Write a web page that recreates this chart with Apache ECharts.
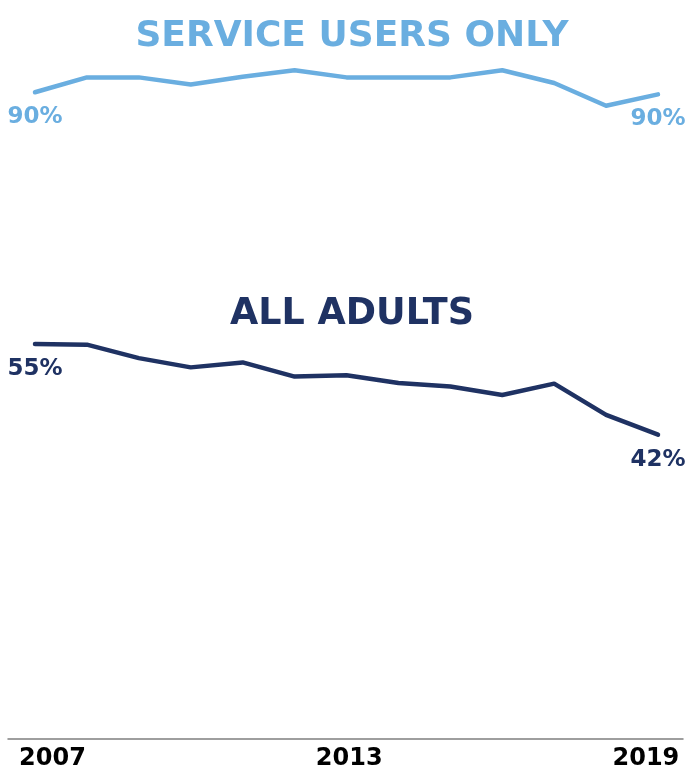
<!DOCTYPE html>
<html>
<head>
<meta charset="utf-8">
<script src="https://cdn.jsdelivr.net/npm/echarts@6/dist/echarts.min.js"></script>
<style>
html,body{margin:0;padding:0;background:#fff;}
#chart{width:688px;height:771px;}
</style>
</head>
<body>
<div id="chart"></div>
<script>
const years = ['2007','2008','2009','2010','2011','2012','2013','2014','2015','2016','2017','2018','2019'];
const serviceUsers = [90.3, 92.4, 92.4, 91.4, 92.5, 93.4, 92.4, 92.4, 92.4, 93.4, 91.6, 88.4, 90.0];
const allAdults = [54.8, 54.7, 52.8, 51.5, 52.2, 50.2, 50.4, 49.3, 48.8, 47.6, 49.2, 44.8, 42.0];
const tickYears = [2007, 2013, 2019];
const titleTop = 'SERVICE USERS ONLY';
const titleBottom = 'ALL ADULTS';

const lightBlue = '#6aaee0';
const navy = '#1f3263';
const mainFont = '"DejaVu Sans", Verdana, sans-serif';

function endLabel(color) {
  return {
    show: true,
    position: 'bottom',
    distance: 13,
    color: color,
    fontFamily: mainFont,
    fontWeight: 'bold',
    fontSize: 23,
    lineHeight: 24,
    formatter: function (p) {
      if (p.dataIndex === 0 || p.dataIndex === years.length - 1) {
        return Math.round(p.value) + '%';
      }
      return '';
    }
  };
}

const chart = echarts.init(document.getElementById('chart'), null, {renderer: 'canvas'});
chart.setOption({
  animation: false,
  backgroundColor: '#ffffff',
  title: [
    {
      text: titleTop,
      left: 347, top: 13, textAlign: 'center',
      textStyle: {color: lightBlue, fontFamily: mainFont, fontWeight: 'bold', fontSize: 36, lineHeight: 37}
    },
    {
      text: titleBottom,
      left: 347, top: 291, textAlign: 'center',
      textStyle: {color: navy, fontFamily: mainFont, fontWeight: 'bold', fontSize: 36.5, lineHeight: 37}
    }
  ],
  grid: [
    {left: 35, right: 30, top: 23.5, bottom: 38.5},
    {left: 8, right: 5, top: 23.5, bottom: 32}
  ],
  xAxis: [
    {
      gridIndex: 0, type: 'category', data: years, boundaryGap: false,
      axisLine: {show: false}, axisTick: {show: false}, axisLabel: {show: false}, splitLine: {show: false}
    },
    {
      gridIndex: 1, type: 'value', min: 2006.10, max: 2019.75,
      axisLine: {show: true, lineStyle: {color: '#7f7f7f', width: 1.5}},
      axisTick: {show: false},
      splitLine: {show: false},
      axisLabel: {
        show: true, customValues: tickYears, margin: 8,
        color: '#000000', fontFamily: mainFont, fontWeight: 'bold', fontSize: 24,
        formatter: function (v) { return String(v); }
      }
    }
  ],
  yAxis: [
    {gridIndex: 0, type: 'value', min: 0, max: 100, show: false},
    {gridIndex: 1, type: 'value', min: 0, max: 100, show: false}
  ],
  series: [
    {
      name: titleTop, type: 'line', xAxisIndex: 0, yAxisIndex: 0,
      data: serviceUsers, symbol: 'circle', symbolSize: 0.1, showSymbol: true, showAllSymbol: true,
      itemStyle: {color: lightBlue},
      lineStyle: {color: lightBlue, width: 4.5, cap: 'round', join: 'round'},
      label: endLabel(lightBlue)
    },
    {
      name: titleBottom, type: 'line', xAxisIndex: 0, yAxisIndex: 0,
      data: allAdults, symbol: 'circle', symbolSize: 0.1, showSymbol: true, showAllSymbol: true,
      itemStyle: {color: navy},
      lineStyle: {color: navy, width: 4.5, cap: 'round', join: 'round'},
      label: endLabel(navy)
    }
  ]
});
</script>
</body>
</html>
